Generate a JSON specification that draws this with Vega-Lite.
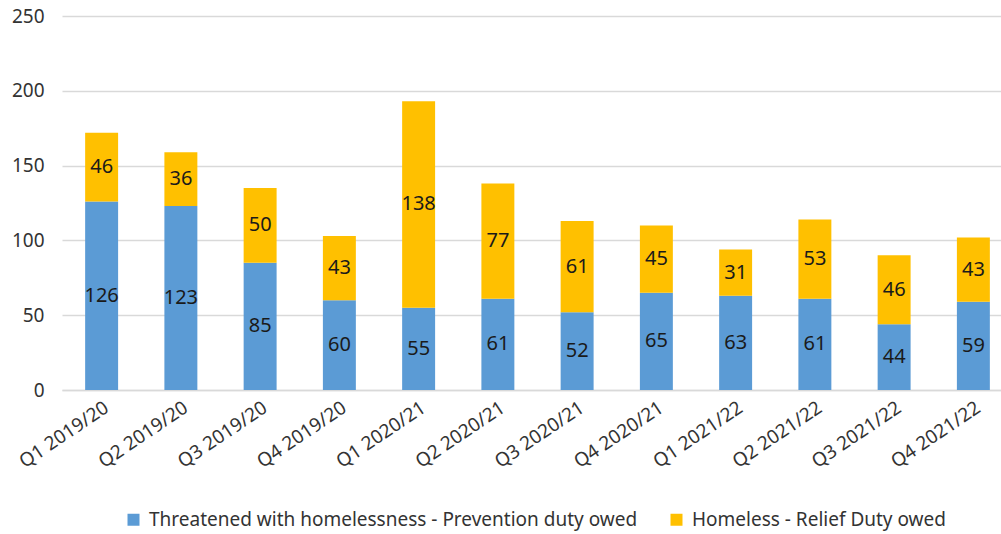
{
  "$schema": "https://vega.github.io/schema/vega-lite/v6.json",
  "width": 951,
  "height": 374,
  "autosize": {"type": "none"},
  "padding": {"left": 62, "top": 16, "right": 0, "bottom": 144},
  "config": {
    "view": {"stroke": null},
    "font": "Noto Sans"
  },
  "data": {
    "values": [
      {"quarter": "Q1 2019/20", "type": "Threatened with homelessness - Prevention duty owed", "k": 1, "n": 126},
      {"quarter": "Q1 2019/20", "type": "Homeless - Relief Duty owed", "k": 2, "n": 46},
      {"quarter": "Q2 2019/20", "type": "Threatened with homelessness - Prevention duty owed", "k": 1, "n": 123},
      {"quarter": "Q2 2019/20", "type": "Homeless - Relief Duty owed", "k": 2, "n": 36},
      {"quarter": "Q3 2019/20", "type": "Threatened with homelessness - Prevention duty owed", "k": 1, "n": 85},
      {"quarter": "Q3 2019/20", "type": "Homeless - Relief Duty owed", "k": 2, "n": 50},
      {"quarter": "Q4 2019/20", "type": "Threatened with homelessness - Prevention duty owed", "k": 1, "n": 60},
      {"quarter": "Q4 2019/20", "type": "Homeless - Relief Duty owed", "k": 2, "n": 43},
      {"quarter": "Q1 2020/21", "type": "Threatened with homelessness - Prevention duty owed", "k": 1, "n": 55},
      {"quarter": "Q1 2020/21", "type": "Homeless - Relief Duty owed", "k": 2, "n": 138},
      {"quarter": "Q2 2020/21", "type": "Threatened with homelessness - Prevention duty owed", "k": 1, "n": 61},
      {"quarter": "Q2 2020/21", "type": "Homeless - Relief Duty owed", "k": 2, "n": 77},
      {"quarter": "Q3 2020/21", "type": "Threatened with homelessness - Prevention duty owed", "k": 1, "n": 52},
      {"quarter": "Q3 2020/21", "type": "Homeless - Relief Duty owed", "k": 2, "n": 61},
      {"quarter": "Q4 2020/21", "type": "Threatened with homelessness - Prevention duty owed", "k": 1, "n": 65},
      {"quarter": "Q4 2020/21", "type": "Homeless - Relief Duty owed", "k": 2, "n": 45},
      {"quarter": "Q1 2021/22", "type": "Threatened with homelessness - Prevention duty owed", "k": 1, "n": 63},
      {"quarter": "Q1 2021/22", "type": "Homeless - Relief Duty owed", "k": 2, "n": 31},
      {"quarter": "Q2 2021/22", "type": "Threatened with homelessness - Prevention duty owed", "k": 1, "n": 61},
      {"quarter": "Q2 2021/22", "type": "Homeless - Relief Duty owed", "k": 2, "n": 53},
      {"quarter": "Q3 2021/22", "type": "Threatened with homelessness - Prevention duty owed", "k": 1, "n": 44},
      {"quarter": "Q3 2021/22", "type": "Homeless - Relief Duty owed", "k": 2, "n": 46},
      {"quarter": "Q4 2021/22", "type": "Threatened with homelessness - Prevention duty owed", "k": 1, "n": 59},
      {"quarter": "Q4 2021/22", "type": "Homeless - Relief Duty owed", "k": 2, "n": 43}
    ]
  },
  "encoding": {
    "x": {
      "field": "quarter",
      "type": "nominal",
      "sort": null,
      "title": null,
      "scale": {"paddingInner": 0.584, "paddingOuter": 0.292},
      "axis": {
        "labelAngle": -34,
        "labelAlign": "right",
        "labelBaseline": "top",
        "labelFontSize": 19,
        "labelColor": "#333333",
        "labelPadding": 8,
        "ticks": false,
        "domainColor": "#D9D9D9",
        "domainWidth": 1.5
      }
    },
    "y": {
      "field": "n",
      "type": "quantitative",
      "stack": "zero",
      "title": null,
      "scale": {"domain": [0, 250]},
      "axis": {
        "values": [0, 50, 100, 150, 200, 250],
        "domain": false,
        "ticks": false,
        "labelFontSize": 19,
        "labelColor": "#333333",
        "labelPadding": 18,
        "gridColor": "#D9D9D9",
        "gridWidth": 1.5
      }
    },
    "order": {"field": "k"}
  },
  "layer": [
    {
      "mark": {"type": "bar"},
      "encoding": {
        "color": {
          "field": "type",
          "type": "nominal",
          "scale": {
            "domain": ["Threatened with homelessness - Prevention duty owed", "Homeless - Relief Duty owed"],
            "range": ["#5B9BD5", "#FFC000"]
          },
          "legend": {
            "orient": "none",
            "legendX": 62,
            "legendY": 494,
            "direction": "horizontal",
            "title": null,
            "symbolType": "square",
            "symbolSize": 144,
            "symbolStrokeWidth": 0,
            "labelFontSize": 19,
            "labelColor": "#333333",
            "labelOffset": 6,
            "columnPadding": 29,
            "labelLimit": 600
          }
        }
      }
    },
    {
      "mark": {"type": "text", "fontSize": 20, "color": "#1a1a1a", "baseline": "middle"},
      "encoding": {
        "y": {"field": "n", "type": "quantitative", "stack": "zero", "bandPosition": 0.5},
        "text": {"field": "n", "type": "quantitative"}
      }
    }
  ]
}
